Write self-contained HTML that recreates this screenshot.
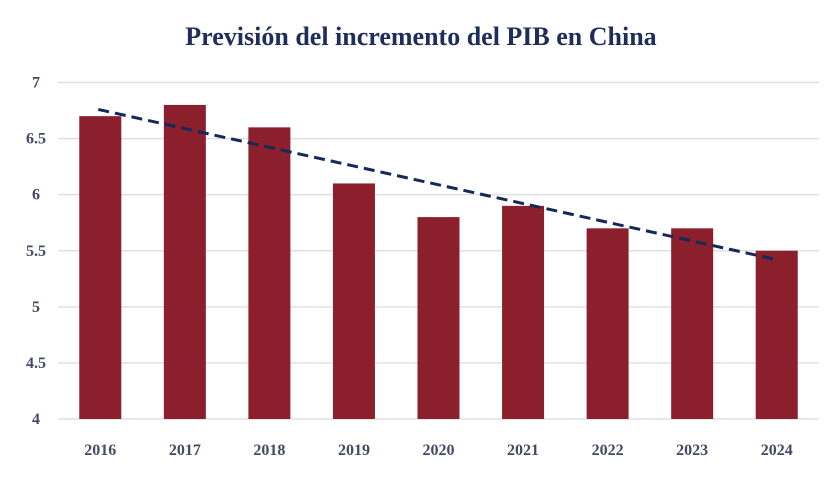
<!DOCTYPE html>
<html><head><meta charset="utf-8"><style>
body{margin:0;background:#fff;width:840px;height:474px;overflow:hidden}
text{font-family:"Liberation Serif",serif}
</style></head><body>
<svg id="chart" width="840" height="474" xmlns="http://www.w3.org/2000/svg">
<text x="421" y="45" text-anchor="middle" font-size="26" font-weight="bold" fill="#1f2d5c">Previsión del incremento del PIB en China</text>
<g id="grid"></g><g id="bars"></g><g id="trend"></g><g id="xlabels"></g><g id="ylabels"></g>
</svg>
<script>
const categories=["2016","2017","2018","2019","2020","2021","2022","2023","2024"];
const values=[6.7,6.8,6.6,6.1,5.8,5.9,5.7,5.7,5.5];
const yTicks=[4,4.5,5,5.5,6,6.5,7];
const yTickLabels=["4","4.5","5","5.5","6","6.5","7"];
const trendValues=[6.76,5.42];
const NS="http://www.w3.org/2000/svg";
const x0=58,x1=819,yTop=82.5,yBot=419,yMin=4,yMax=7;
const band=(x1-x0)/categories.length;
const y=v=>yBot-(v-yMin)/(yMax-yMin)*(yBot-yTop);
const xc=i=>x0+band*(i+0.5);
function mk(tag,attrs,parent){const e=document.createElementNS(NS,tag);for(const k in attrs)e.setAttribute(k,attrs[k]);document.getElementById(parent).appendChild(e);return e;}
yTicks.forEach((t,i)=>{
 const l=mk("line",{x1:x0,x2:x1,y1:y(t),y2:y(t),stroke:"#e0e0e0","stroke-width":1.5},"grid");
 
 
 const tx=mk("text",{x:36,y:y(t)+5,"text-anchor":"middle","font-size":16,"font-weight":"bold",fill:"#434a63"},"ylabels");
 tx.textContent=yTickLabels[i];
 
 
});
const bw=42;
values.forEach((v,i)=>{
 const r=mk("rect",{x:xc(i)-bw/2,y:y(v),width:bw,height:yBot-y(v),fill:"#8b1f2c"},"bars");
 
 
 const tx=mk("text",{x:xc(i),y:455,"text-anchor":"middle","font-size":16,"font-weight":"bold",fill:"#434a63"},"xlabels");
 tx.textContent=categories[i];
 
 
});
const tl=mk("line",{x1:xc(0)-2,y1:y(trendValues[0]),x2:xc(categories.length-1),y2:y(trendValues[1]),stroke:"#14285a","stroke-width":3,"stroke-dasharray":"11 6"},"trend");


</script>
</body></html>
